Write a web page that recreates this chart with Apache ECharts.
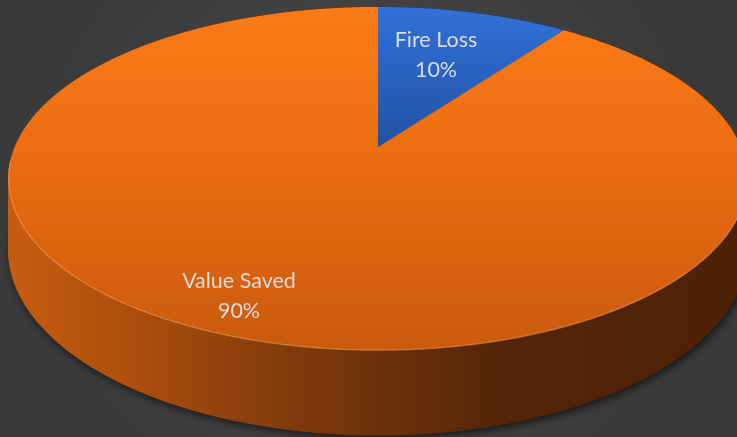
<!DOCTYPE html>
<html><head><meta charset="utf-8">
<script src="https://cdn.jsdelivr.net/npm/echarts@6/dist/echarts.min.js"></script>
<style>html,body{margin:0;padding:0;background:#404040}#c{width:737px;height:437px}</style>
</head><body><div id="c"></div>
<script>
// ---- data ----
const categories = ['Fire Loss', 'Value Saved'];
const values = [10, 90];

// ---- layout / style constants ----
const CX = 378, CY = 147;      // pie centre (top face)
const A = 1975, B = 902, D = 5.44, T = 377; // perspective projection params
const labelAnchors = [[436, 55], [239, 296]];
const topStops = [
  [[0, '#3171d9'], [1, '#2152a3']],
  [[0, '#fb7b17'], [0.5, '#e86b10'], [1, '#c95a0e']]
];
const sideStops = [
  [[0, '#2a4f90'], [1, '#14284a']],
  [[0, '#c65c10'], [0.19, '#a84c0c'], [0.33, '#8a3f0c'], [0.5, '#6e320a'], [0.68, '#542509'], [1, '#4c2107']]
];

const total = values.reduce((s, v) => s + v, 0);
function sliceAngles(i) {
  let s = 0;
  for (let k = 0; k < i; k++) s += values[k];
  return [s / total * 360, (s + values[i]) / total * 360];
}
function proj(deg, r, h) {
  const t = deg * Math.PI / 180;
  const u = r * Math.sin(t), v = -r * Math.cos(t);
  const s = 1 / (D - v);
  return [CX + A * u * s, CY + B * v * s + h * T * s];
}
function grad(x, y, x2, y2, stops) {
  return new echarts.graphic.LinearGradient(x, y, x2, y2,
    stops.map(s => ({offset: s[0], color: s[1]})), true);
}
function arc(a0, a1, h, step) {
  const pts = [];
  const n = Math.max(1, Math.ceil((a1 - a0) / step));
  for (let k = 0; k <= n; k++) pts.push(proj(a0 + (a1 - a0) * k / n, 1, h));
  return pts;
}

function renderSide(params) {
  const i = params.dataIndex;
  const [a0, a1] = sliceAngles(i);
  const fill = grad(12, 0, 737, 0, sideStops[i]);
  const children = [];
  children.push({
    type: 'polygon',
    shape: {points: [proj(0, 0, 1)].concat(arc(a0, a1, 1, 1))},
    style: {fill: fill, shadowBlur: 9, shadowColor: 'rgba(0,0,0,0.65)', shadowOffsetX: 2, shadowOffsetY: 3}
  });
  const top = arc(a0, a1, 0, 1), bot = arc(a0, a1, 1, 1);
  for (let k = 0; k < top.length - 1; k++) {
    children.push({
      type: 'polygon',
      shape: {points: [top[k], top[k + 1], bot[k + 1], bot[k]]},
      style: {fill: fill, stroke: fill, lineWidth: 0.7}
    });
  }
  return {type: 'group', children: children};
}

function renderTop(params) {
  const i = params.dataIndex;
  const [a0, a1] = sliceAngles(i);
  const children = [];
  const pts = [proj(0, 0, 0)].concat(arc(a0, a1, 0, 0.5));
  children.push({
    type: 'polygon',
    shape: {points: pts},
    style: {fill: grad(0, 7, 0, i === 0 ? 147 : 350, topStops[i])}
  });
  // front-edge highlight
  const lo = Math.max(a0, 95), hi = Math.min(a1, 265);
  if (hi > lo) {
    children.push({
      type: 'polyline',
      shape: {points: arc(lo, hi, 0, 0.5)},
      style: {stroke: 'rgba(255,165,95,0.5)', lineWidth: 1.3, fill: null}
    });
  }
  const pct = Math.round(values[i] / total * 100) + '%';
  children.push({
    type: 'text',
    style: {
      text: categories[i] + '\n' + pct,
      x: labelAnchors[i][0], y: labelAnchors[i][1],
      align: 'center', verticalAlign: 'middle',
      fill: '#dcdcdc', font: '21.5px Lato', lineHeight: 30
    }
  });
  return {type: 'group', children: children};
}

const data = values.map((v, i) => ({name: categories[i], value: v}));
const chart = echarts.init(document.getElementById('c'), null, {renderer: 'canvas'});
chart.setOption({
  animation: false,
  backgroundColor: new echarts.graphic.RadialGradient(0.5, 0.45, 0.75, [
    {offset: 0, color: '#4d4d4d'}, {offset: 1, color: '#3a3a3a'}
  ]),
  series: [
    {type: 'custom', coordinateSystem: 'none', renderItem: renderSide, data: data, z: 1, silent: true},
    {type: 'custom', coordinateSystem: 'none', renderItem: renderTop, data: data, z: 2, silent: true}
  ]
});
</script>
</body></html>
